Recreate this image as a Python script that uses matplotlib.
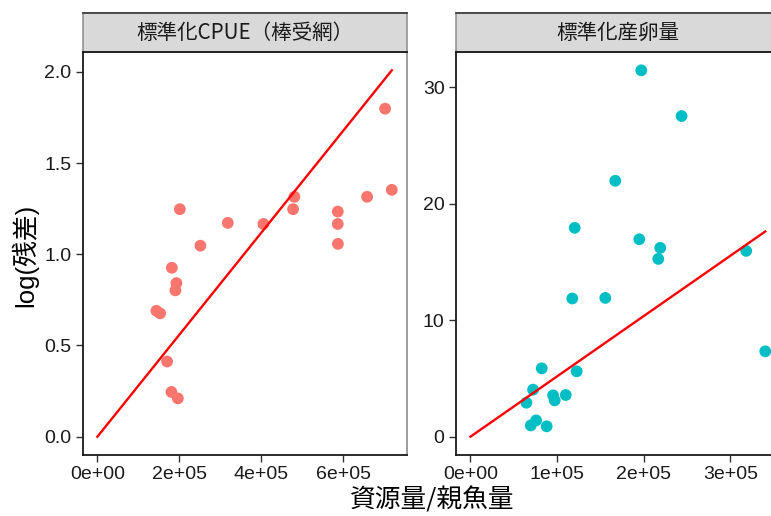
import matplotlib
matplotlib.use('Agg')
import matplotlib.pyplot as plt
from matplotlib.ticker import FuncFormatter
import numpy as np

plt.rcParams['font.family'] = ['Liberation Sans', 'Noto Sans CJK JP', 'DejaVu Sans']

# panel titles
panels = ['標準化CPUE（棒受網）', '標準化産卵量']

# left panel: standardised CPUE (stick-held dip net)
cpue_x = [701700, 718000, 657800, 480500, 477300, 586300, 586300, 586600, 404900, 318000,
          201000, 251200, 181500, 192700, 190200, 143900, 152900, 170000, 180500, 196100]
cpue_y = [1.798, 1.353, 1.315, 1.315, 1.247, 1.234, 1.166, 1.057, 1.166, 1.172,
          1.247, 1.047, 0.926, 0.842, 0.802, 0.690, 0.676, 0.412, 0.245, 0.210]
cpue_slope = 2.797e-06

# right panel: standardised egg production
egg_x = [197200, 243700, 167200, 120300, 194900, 219100, 216800, 318300, 117600, 155700, 340300,
         82300, 122600, 72300, 95400, 97300, 110000, 64600, 75800, 69600, 88000]
egg_y = [31.47, 27.54, 21.98, 17.94, 16.96, 16.22, 15.27, 15.96, 11.87, 11.92, 7.33,
         5.87, 5.61, 4.04, 3.55, 3.12, 3.58, 2.92, 1.40, 0.97, 0.89]
egg_slope = 5.18e-05

cpue_yticks = [0.0, 0.5, 1.0, 1.5, 2.0]
cpue_xticks = [0, 200000, 400000, 600000]
egg_yticks = [0, 10, 20, 30]
egg_xticks = [0, 100000, 200000, 300000]

W, H = 771, 516
fig = plt.figure(figsize=(W / 100, H / 100), dpi=100)

def px_axes(x0, x1, y0, y1):
    return fig.add_axes([x0 / W, 1 - y1 / H, (x1 - x0) / W, (y1 - y0) / H])

ax1 = px_axes(82.7, 406.5, 52, 455)
ax2 = px_axes(455.7, 780, 52, 455)

def style(ax, title, xticks, yticks, yfmt):
    ax.set_xticks(xticks)
    ax.set_yticks(yticks)
    ax.xaxis.set_major_formatter(FuncFormatter(lambda v, p: f'{v:.0e}'))
    ax.yaxis.set_major_formatter(FuncFormatter(yfmt))
    ax.tick_params(direction='out', length=5, width=1, color='#333333',
                   labelsize=14, labelcolor='#1a1a1a', pad=3)
    for s in ['left', 'bottom', 'top']:
        ax.spines[s].set_color('#1a1a1a')
        ax.spines[s].set_linewidth(1.3)
    ax.spines['right'].set_color('#8c8c8c')
    ax.spines['right'].set_linewidth(1.2)
    # facet strip
    strip = plt.Rectangle((0, 1.0), 1, 39 / 403, transform=ax.transAxes, clip_on=False,
                          facecolor='#d9d9d9', edgecolor='#8c8c8c', linewidth=1.1, zorder=0)
    ax.add_patch(strip)
    ax.plot([0, 1], [1 + 39 / 403] * 2, transform=ax.transAxes, clip_on=False,
            color='#444444', lw=1.3)
    ax.text(0.5, 1 + 19.5 / 403, title, transform=ax.transAxes, ha='center', va='center',
            fontsize=14.8, color='#1a1a1a',
            family=['Noto Sans CJK JP', 'Liberation Sans'])

def draw(ax, x, y, slope, color):
    x = np.array(x)
    y = np.array(y)
    ax.scatter(x, y, s=72, color=color, edgecolors='none', zorder=3)
    lx = np.array([0, x.max()])
    ax.plot(lx, slope * lx, color='red', lw=1.7, zorder=4)
    xr = x.max()
    ax.set_xlim(-0.05 * xr, xr * 1.05)
    yr = max(y.max(), slope * xr)
    ax.set_ylim(-0.05 * yr, yr * 1.05)

draw(ax1, cpue_x, cpue_y, cpue_slope, '#F8766D')
draw(ax2, egg_x, egg_y, egg_slope, '#00BFC4')

style(ax1, panels[0], cpue_xticks, cpue_yticks, lambda v, p: f'{v:.1f}')
style(ax2, panels[1], egg_xticks, egg_yticks, lambda v, p: f'{v:.0f}')

fig.text(432 / W, 1 - 500 / H, '資源量/親魚量', ha='center', va='center', fontsize=18.5,
         color='black', family=['Noto Sans CJK JP', 'Liberation Sans'])
fig.text(25 / W, 1 - 255 / H, 'log(残差)', ha='center', va='center', rotation=90,
         fontsize=18.5, color='black', family=['Liberation Sans', 'Noto Sans CJK JP'])

fig.savefig('out.png', dpi=100)
